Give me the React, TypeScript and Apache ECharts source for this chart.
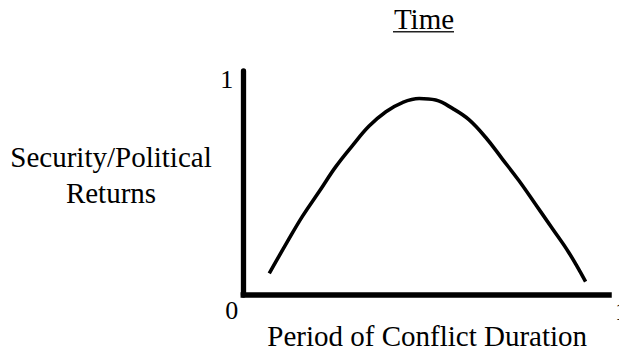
import React, { useEffect, useRef } from "react";
import * as echarts from "echarts";

const titleText = "Time";
const yTitle = "Security/Political\nReturns";
const xTitle = "Period of Conflict Duration";
const yTickLabels = ["0", "1"];
const xTickLabels = ["", "1"];
const xVals = [0.071, 0.117, 0.162, 0.208, 0.253, 0.299, 0.344, 0.390, 0.435, 0.481, 0.526, 0.572, 0.617, 0.663, 0.708, 0.754, 0.799, 0.845, 0.890, 0.936];
const yVals = [0.097, 0.228, 0.352, 0.463, 0.573, 0.668, 0.754, 0.818, 0.859, 0.877, 0.870, 0.833, 0.783, 0.703, 0.608, 0.510, 0.405, 0.297, 0.190, 0.060];

const FONT = "Liberation Serif";

export default function App() {
  const ref = useRef<HTMLDivElement>(null);
  useEffect(() => {
    if (!ref.current) return;
    document.body.style.margin = "0";
    document.body.style.overflow = "hidden";
    const chart = echarts.init(ref.current, null, { renderer: "svg", width: 619, height: 352 });
    const data = xVals.map((x, i) => [x, yVals[i]]);
    chart.setOption({
      animation: false,
      backgroundColor: "#fff",
      textStyle: { fontFamily: FONT },
      title: [
        {
          text: titleText,
          left: 424,
          top: 4,
          textAlign: "center",
          padding: 0,
          textStyle: { fontFamily: FONT, fontSize: 29, fontWeight: "normal", color: "#000", lineHeight: 29 },
        },
        {
          text: yTitle,
          left: 111,
          top: 139,
          textAlign: "center",
          padding: 0,
          textStyle: { fontFamily: FONT, fontSize: 29, fontWeight: "normal", color: "#000", lineHeight: 36, align: "center" },
        },
      ],
      graphic: [
        {
          type: "line",
          shape: { x1: 393, y1: 31.7, x2: 454, y2: 31.7 },
          style: { stroke: "#222", lineWidth: 1.5 },
        },
      ],
      grid: { left: 243.3, right: 10, top: 71, bottom: 57, containLabel: false, outerBoundsMode: "none" },
      xAxis: {
        type: "value",
        min: 0,
        max: 1,
        interval: 1,
        splitLine: { show: false },
        axisTick: { show: false },
        axisLine: { show: true, lineStyle: { color: "#000", width: 5.5, cap: "square" } },
        axisLabel: {
          show: true,
          margin: 0,
          align: "left",
          verticalAlign: "top",
          lineHeight: 32,
          padding: [0, 0, 0, 6],
          fontFamily: FONT,
          fontSize: 26,
          color: "#000",
          formatter: (v: number) => (v === 1 ? xTickLabels[1] : xTickLabels[0]),
        },
        name: xTitle,
        nameLocation: "middle",
        nameGap: 26.5,
        nameMoveOverlap: false,
        nameTextStyle: { fontFamily: FONT, fontSize: 29, color: "#000", lineHeight: 29, padding: [0, 0, 0, 2] },
      },
      yAxis: {
        type: "value",
        min: 0,
        max: 1,
        interval: 1,
        splitLine: { show: false },
        axisTick: { show: false },
        axisLine: { show: true, lineStyle: { color: "#000", width: 5.3 } },
        axisLabel: {
          show: true,
          margin: 5,
          verticalAlign: "top",
          fontFamily: FONT,
          fontSize: 26,
          color: "#000",
          formatter: (v: number) => (v === 1 ? "{t|" + yTickLabels[1] + "}" : "{b|" + yTickLabels[0] + "}"),
          rich: {
            t: { fontFamily: FONT, fontSize: 26, color: "#000", lineHeight: 16, padding: [0, 5, 0, 0] },
            b: { fontFamily: FONT, fontSize: 26, color: "#000", lineHeight: 30 },
          },
        },
      },
      series: [
        {
          type: "line",
          data,
          smooth: 0.4,
          showSymbol: false,
          symbol: "none",
          lineStyle: { color: "#000", width: 3.6 },
        },
      ],
    });
    return () => chart.dispose();
  }, []);
  return (
    <div
      ref={ref}
      style={{ position: "fixed", left: 0, top: 0, width: 619, height: 352, background: "#fff" }}
    />
  );
}
